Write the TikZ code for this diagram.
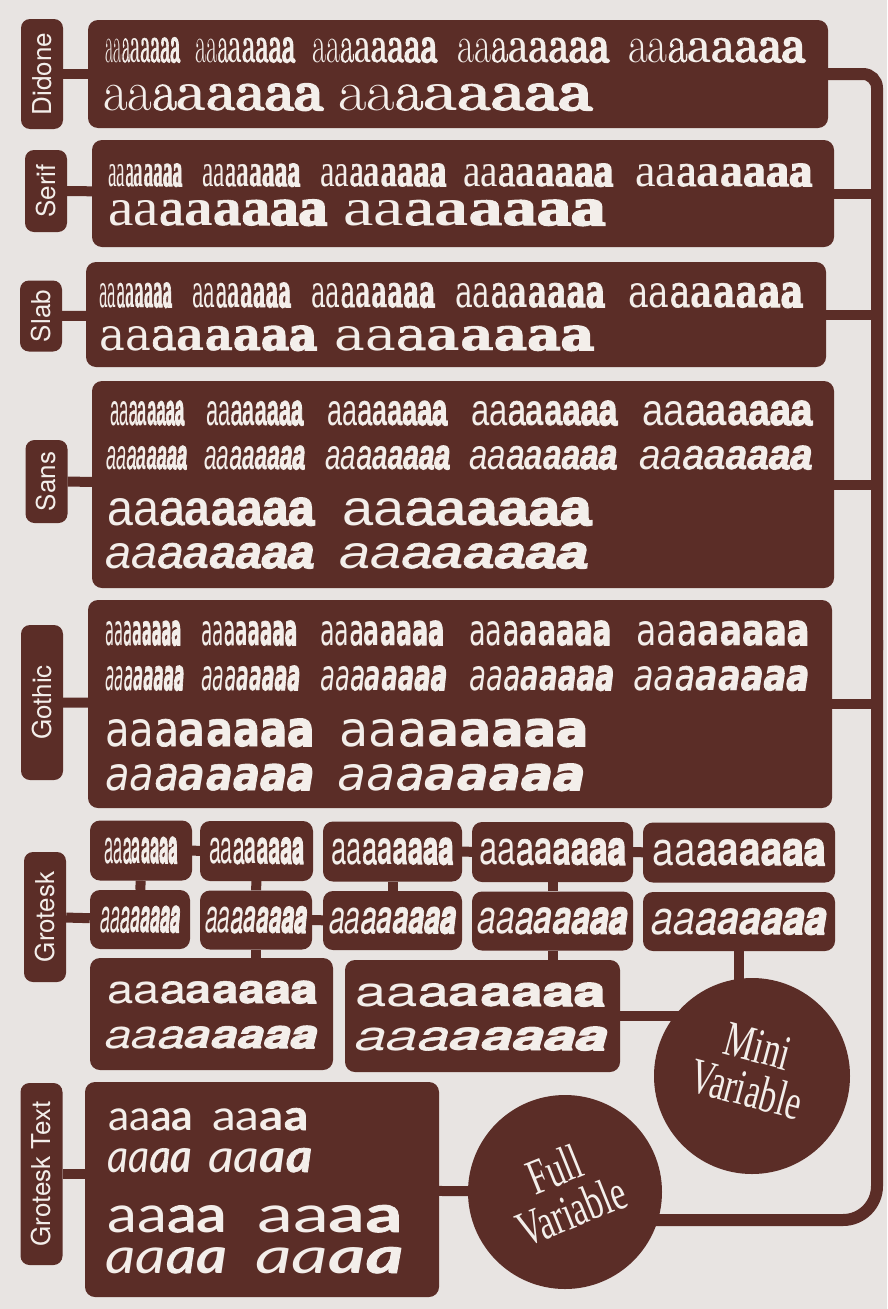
\documentclass[tikz,border=0pt]{standalone}
\usepackage{fontspec}
\usepackage{graphicx}
\usetikzlibrary{backgrounds}
\definecolor{ink}{RGB}{91,45,39}
\definecolor{paper}{RGB}{232,228,226}
\definecolor{cream}{RGB}{243,238,234}
\newfontfamily\fdid[Scale=4.6]{Latin Modern Roman}
\newfontfamily\fser[Scale=4.6]{Liberation Serif}
\newfontfamily\fslab[Scale=4.2]{DejaVu Serif}
\newfontfamily\fsans[Scale=4.6]{Liberation Sans}
\newfontfamily\fgoth[Scale=4.2]{DejaVu Sans}
\newfontfamily\fgro[Scale=4.6]{TeX Gyre Heros}
\newfontfamily\fgtx[Scale=4.2]{Lato}
\newfontfamily\flab{TeX Gyre Heros}
\newfontfamily\fdisc[FakeStretch=0.68]{Liberation Serif}
\newcommand\fbA[1]{{\addfontfeatures{FakeBold=#1}a}}
\newcommand\rampseven{aa\fbA{1.5}{\bfseries a\fbA{1}\fbA{2}\fbA{3}\fbA{4}}}
\newcommand\rampfour{aa\fbA{1.5}{\bfseries a}}
\newcommand\rampfourb{aa{\bfseries a\fbA{1.5}}}

\begin{document}
\begin{tikzpicture}[x=1pt,y=-1pt,
   card/.style={fill=ink,rounded corners=10pt,inner sep=0pt,text=cream},
   tag/.style={fill=ink,rounded corners=9pt,inner sep=0pt,rotate=90,text=cream,
     font=\flab\fontsize{26}{26}\selectfont,minimum height=42pt},
   disc/.style={circle,fill=ink,inner sep=0pt},
   disctext/.style={text=cream,align=center,inner sep=0pt,
     font=\fdisc\fontsize{50}{45}\selectfont},
   spec/.style={anchor=base west,inner sep=0pt,text=cream},
   link/.style={draw=ink,line width=10pt},
   rail/.style={draw=ink,line width=12pt}]
  \useasboundingbox (0,0) rectangle (887,1309);

  % family cards
  \node[card,minimum width=740pt,minimum height=108pt] (didone) at (458,74) {};
  \node[card,minimum width=742pt,minimum height=107pt] (serif) at (463,193.5) {};
  \node[card,minimum width=740pt,minimum height=105pt] (slab) at (456,314.5) {};
  \node[card,minimum width=742pt,minimum height=207pt] (sans) at (463,484.5) {};
  \node[card,minimum width=744pt,minimum height=208pt] (gothic) at (460,704) {};

  \node[tag,minimum width=110pt] (didonelab) at (42,74) {Didone};
  \node[tag,minimum width=82pt] (seriflab) at (46,191) {Serif};
  \node[tag,minimum width=71pt] (slablab) at (41,316) {Slab};
  \node[tag,minimum width=83pt] (sanslab) at (46.5,481.5) {Sans};
  \node[tag,minimum width=155pt] (gothiclab) at (42,702.5) {Gothic};
  \node[tag,minimum width=130pt] (grolab) at (45,917) {Grotesk};
  \node[tag,minimum width=182pt] (gtlab) at (41.5,1174) {Grotesk Text};

  % specimens
  \foreach \x/\w [count=\i] in {105/75,195/100,312/125,457/152,628/177}
    \node[spec] (didone-a\i) at (\x,62) {\resizebox{\w pt}{24pt}{\fdid\rampseven}};
  \foreach \x/\w [count=\i] in {103/220,338/254}
    \node[spec] (didone-b\i) at (\x,110) {\resizebox{\w pt}{26pt}{\fdid\rampseven}};

  \foreach \x/\w [count=\i] in {108/74,202/98,320/126,463/150,635/177}
    \node[spec] (serif-a\i) at (\x,186) {\resizebox{\w pt}{22pt}{\fser\rampseven}};
  \foreach \x/\w [count=\i] in {108/219,343/262}
    \node[spec] (serif-b\i) at (\x,225) {\resizebox{\w pt}{25pt}{\fser\rampseven}};

  \foreach \x/\w [count=\i] in {99/73,192/99,311/124,455/150,628/175}
    \node[spec] (slab-a\i) at (\x,307) {\resizebox{\w pt}{24pt}{\fslab\rampseven}};
  \foreach \x/\w [count=\i] in {99/218,334/260}
    \node[spec] (slab-b\i) at (\x,350) {\resizebox{\w pt}{24pt}{\fslab\rampseven}};

  \foreach \x/\w [count=\i] in {110/74,206/97,327/120,471/146,642/170}
    \node[spec] (sans-a\i) at (\x,425) {\resizebox{\w pt}{24pt}{\fsans\rampseven}};
  \foreach \x/\w [count=\i] in {106/81,204/101,325/125,469/148,639/173}
    \node[spec] (sans-b\i) at (\x,469) {\resizebox{\w pt}{23pt}{\fsans\itshape\rampseven}};
  \foreach \x/\w [count=\i] in {107/207,342/249}
    \node[spec] (sans-c\i) at (\x,525) {\resizebox{\w pt}{27pt}{\fsans\rampseven}};
  \foreach \x/\w [count=\i] in {105/209,339/249}
    \node[spec] (sans-d\i) at (\x,568) {\resizebox{\w pt}{25pt}{\fsans\itshape\rampseven}};

  \foreach \x/\w [count=\i] in {105/76,201/96,320/124,469/142,636/173}
    \node[spec] (gothic-a\i) at (\x,645) {\resizebox{\w pt}{24pt}{\fgoth\rampseven}};
  \foreach \x/\w [count=\i] in {105/79,201/99,320/127,469/145,633/176}
    \node[spec] (gothic-b\i) at (\x,690) {\resizebox{\w pt}{24pt}{\fgoth\itshape\rampseven}};
  \foreach \x/\w [count=\i] in {105/209,339/249}
    \node[spec] (gothic-c\i) at (\x,746) {\resizebox{\w pt}{27pt}{\fgoth\rampseven}};
  \foreach \x/\w [count=\i] in {105/209,337/248}
    \node[spec] (gothic-d\i) at (\x,790) {\resizebox{\w pt}{26pt}{\fgoth\itshape\rampseven}};

  % grotesk grid
  \foreach \cx/\bw/\tw [count=\i] in {141/102/73,256.5/113/95,392.5/139/122,552.5/161/147,739/192/173}
    \node[card,minimum width=\bw pt,minimum height=60pt] (g1\i) at (\cx,850+\i/2)
      {\resizebox{\tw pt}{26pt}{\fgro\rampseven}};
  \foreach \cx/\bw/\tw [count=\i] in {140/100/80,256/112/102,392.5/139/127,552.5/161/150,739/192/175}
    \node[card,minimum width=\bw pt,minimum height=59pt] (g2\i) at (\cx,919+\i/2)
      {\resizebox{\tw pt}{26pt}{\fgro\itshape\rampseven}};
  \node[card,minimum width=243pt,minimum height=112pt] (gA) at (211.5,1014) {};
  \node[card,minimum width=275pt,minimum height=112pt] (gB) at (482.5,1016) {};
  \node[spec] (gA-1) at (107,1003) {\resizebox{210pt}{22pt}{\fgro\rampseven}};
  \node[spec] (gA-2) at (105,1048) {\resizebox{212pt}{22pt}{\fgro\itshape\rampseven}};
  \node[spec] (gB-1) at (355,1006) {\resizebox{250pt}{23pt}{\fgro\rampseven}};
  \node[spec] (gB-2) at (355,1050) {\resizebox{252pt}{23pt}{\fgro\itshape\rampseven}};

  % grotesk text
  \node[card,minimum width=354pt,minimum height=215pt] (gtbox) at (262,1189.5) {};
  \node[spec] (gt-a1) at (108,1130) {\resizebox{85pt}{22pt}{\fgtx\rampfour}};
  \node[spec] (gt-a2) at (212,1130) {\resizebox{96pt}{22pt}{\fgtx\rampfourb}};
  \node[spec] (gt-b1) at (107,1172) {\resizebox{85pt}{24pt}{\fgtx\itshape\rampfour}};
  \node[spec] (gt-b2) at (208,1172) {\resizebox{104pt}{24pt}{\fgtx\itshape\rampfourb}};
  \node[spec] (gt-c1) at (107,1232) {\resizebox{120pt}{27pt}{\fgtx\rampfour}};
  \node[spec] (gt-c2) at (257,1232) {\resizebox{145pt}{27pt}{\fgtx\rampfourb}};
  \node[spec] (gt-d1) at (105,1273) {\resizebox{122pt}{26pt}{\fgtx\itshape\rampfour}};
  \node[spec] (gt-d2) at (255,1273) {\resizebox{148pt}{26pt}{\fgtx\itshape\rampfourb}};

  % variables
  \node[disc,minimum size=196pt] (mini) at (752,1076) {};
  \node[disctext,rotate=-15] (minitext) at (752,1068) {Mini\\Variable};
  \node[disc,minimum size=194pt] (full) at (565,1192) {};
  \node[disctext,rotate=22] (fulltext) at (563,1190) {Full\\Variable};

  \coordinate (railtop) at (877,74);
  \coordinate (railbot) at (877,1220);

  \begin{scope}[on background layer]
    \fill[paper] (0,0) rectangle (887,1309);
    \draw[rail,rounded corners=14pt] (didone.east) -- (railtop) -- (877,650);
    \draw[rail,rounded corners=34pt] (877,640) -- (railbot) -- (railbot -| full);
    \foreach \n in {serif,slab,sans,gothic}
      \draw[link] (\n) -- (\n -| railtop);
    \foreach \n in {didone,serif,slab,sans,gothic}
      \draw[link] (\n lab) -- (\n);
    \draw[link] (grolab) -- (g21);
    \draw[link] (g11) -- (g12);
    \draw[link] (g13) -- (g14) -- (g15);
    \draw[link] (g22) -- (g23);
    \foreach \i in {1,...,4}
      \draw[link] (g1\i) -- (g2\i);
    \draw[link] (g22) -- (g22 |- gA);
    \draw[link] (g24) -- (g24 |- gB);
    \draw[link] (g25) -- (g25 |- mini);
    \draw[link] (gB) -- (gB -| mini);
    \draw[link] (gtlab) -- (gtlab -| gtbox);
    \draw[link] (gtbox) -- (full);
  \end{scope}
\end{tikzpicture}
\end{document}
